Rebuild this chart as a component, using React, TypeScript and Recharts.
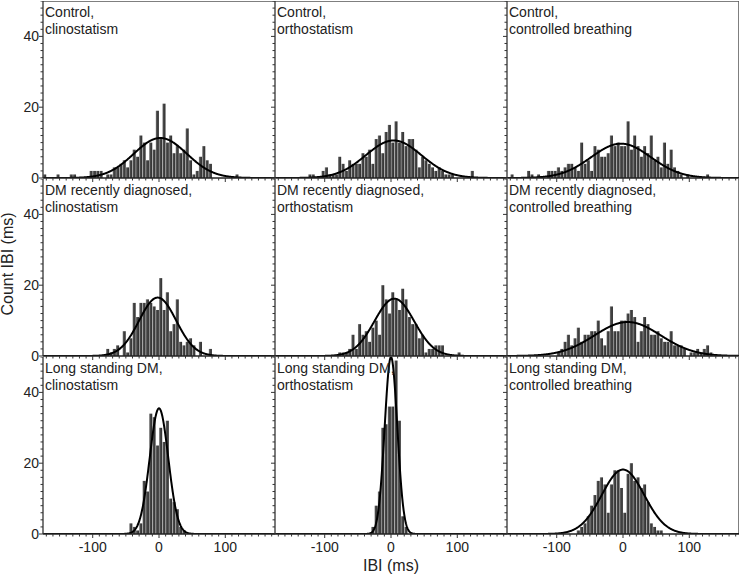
import React from 'react';
import { ComposedChart, Bar, Line, XAxis, YAxis, ReferenceLine } from 'recharts';

// histogram bins are 5 ms wide; each array starts at the given bin centre
const BIN = 5;

const ctrlClinoStart = -172.5;
const ctrlClino = [1, 0, 0, 0, 1, 0, 0, 0, 1, 1, 0, 0, 0, 0, 2, 2, 2, 2, 0, 1, 1, 3, 3, 4, 5, 3, 5, 8, 6, 12, 10, 5, 10, 8, 19, 11, 21, 10, 12, 7, 9, 7, 8, 14, 5, 1, 2, 6, 9, 5, 4, 0, 0, 0, 0, 0, 0, 0, 1];

const ctrlOrthoStart = -122.5;
const ctrlOrtho = [1, 1, 0, 0, 2, 3, 1, 1, 1, 6, 4, 2, 5, 4, 4, 4, 7, 6, 8, 4, 11, 12, 7, 13, 15, 10, 16, 10, 13, 9, 11, 11, 8, 3, 6, 5, 4, 3, 2, 3, 2, 1, 1, 1, 0, 0, 0, 0, 0, 2];

const ctrlBreathStart = -167.5;
const ctrlBreath = [1, 0, 0, 0, 0, 2, 1, 0, 1, 0, 0, 2, 2, 2, 3, 2, 3, 4, 4, 3, 2, 10, 4, 5, 2, 9, 8, 6, 6, 7, 12, 9, 10, 9, 9, 16, 8, 12, 9, 6, 9, 7, 12, 5, 6, 3, 10, 4, 8, 3, 2, 1, 0, 1, 0, 0, 0, 0, 0, 1];

const recentClinoStart = -77.5;
const recentClino = [2, 1, 2, 3, 0, 7, 1, 5, 15, 11, 15, 15, 16, 15, 14, 13, 22, 13, 18, 7, 9, 16, 4, 3, 4, 5, 3, 0, 4, 0, 0, 2];

const recentOrthoStart = -77.5;
const recentOrtho = [1, 1, 1, 2, 6, 2, 9, 6, 7, 4, 8, 10, 6, 20, 16, 12, 18, 16, 13, 19, 16, 11, 9, 9, 5, 6, 1, 2, 2, 3, 3, 3, 0, 0, 0, 0, 1];

const recentBreathStart = -97.5;
const recentBreath = [1, 2, 4, 6, 3, 5, 8, 4, 6, 6, 7, 7, 10, 5, 3, 7, 14, 7, 7, 10, 10, 12, 13, 11, 4, 7, 11, 9, 6, 6, 7, 5, 4, 4, 7, 3, 3, 3, 2, 0, 1, 1, 2, 1, 2, 3, 1];

const longClinoStart = -42.5;
const longClino = [3, 2, 1, 3, 15, 12, 34, 33, 25, 30, 26, 32, 10, 9, 7, 2, 1];

const longOrthoStart = -27.5;
const longOrtho = [2, 8, 12, 30, 31, 36, 36, 49, 32, 5, 2];

const longBreathStart = -67.5;
const longBreath = [1, 2, 3, 5, 8, 11, 15, 16, 14, 6, 14, 18, 18, 13, 6, 17, 20, 15, 16, 13, 14, 9, 3, 2, 1, 1];

// normal fit: mean (ms), sd (ms), peak (count)
const fitMean = [2, 4, -3, -2, 5, 7, 0, 0, 0];
const fitSd = [40, 42, 45, 28, 30, 50, 14, 9.5, 32];
const fitPeak = [11.3, 10.6, 9.7, 16.5, 16.2, 9.6, 35.5, 50, 18.2];

const rowNames = ['Control,', 'DM recently diagnosed,', 'Long standing DM,'];
const colNames = ['clinostatism', 'orthostatism', 'controlled breathing'];

const X_TICKS = [-170, -160, -150, -140, -130, -120, -110, -100, -90, -80, -70, -60, -50, -40, -30, -20, -10, 0, 10, 20, 30, 40, 50, 60, 70, 80, 90, 100, 110, 120, 130, 140, 150, 160, 170];
const X_LABELS = [-100, 0, 100];
const Y_TICKS = [0, 2, 4, 6, 8, 10, 12, 14, 16, 18, 20, 22, 24, 26, 28, 30, 32, 34, 36, 38, 40, 42, 44, 46, 48, 50];
const Y_LABELS = [0, 20, 40];

const panelCounts = [ctrlClino, ctrlOrtho, ctrlBreath, recentClino, recentOrtho, recentBreath, longClino, longOrtho, longBreath];
const panelStarts = [ctrlClinoStart, ctrlOrthoStart, ctrlBreathStart, recentClinoStart, recentOrthoStart, recentBreathStart, longClinoStart, longOrthoStart, longBreathStart];

const COL_LEFT = [43, 275, 507];
const ROW_TOP = [1, 179, 357];
const PLOT_W = 232;
const PLOT_H = 177;
const Y_AXIS_W = 43;
const X_AXIS_H = 30;
const BAR_W = 3.1;
const FONT = '"Liberation Sans", Arial, sans-serif';
const AXIS = '#333';

const buildRows = (p: number) => {
  const counts = panelCounts[p];
  const start = panelStarts[p];
  const rows: { x: number; count?: number; fit: number }[] = [];
  for (let i = 0; i <= 700; i++) {
    const x = -175 + i * 0.5;
    const k = Math.round((x - start) / BIN);
    const onCentre = Math.abs(x - (start + k * BIN)) < 1e-6 && k >= 0 && k < counts.length;
    const z = (x - fitMean[p]) / fitSd[p];
    rows.push({ x, count: onCentre ? counts[k] : undefined, fit: fitPeak[p] * Math.exp(-0.5 * z * z) });
  }
  return rows;
};

const HistBar = (props: any) => {
  const { x, y, width, height } = props;
  if (!(height > 0)) return <g />;
  const cx = x + width / 2;
  return <rect x={cx - BAR_W / 2} y={y} width={BAR_W} height={height} fill="url(#barFill)" />;
};

const XTick = (props: any) => {
  const { x, y, payload, showLabel } = props;
  const v = payload.value;
  const major = X_LABELS.includes(v);
  return (
    <g>
      <line x1={x} x2={x} y1={y} y2={y + (major ? 4 : 2.5)} stroke={AXIS} strokeWidth={1} />
      {showLabel && major && (
        <text x={x} y={y + 18} textAnchor="middle" fontSize={14} fontFamily={FONT} fill="#222">
          {v}
        </text>
      )}
    </g>
  );
};

const YTick = (props: any) => {
  const { x, y, payload, showLabel } = props;
  const v = payload.value;
  const major = Y_LABELS.includes(v);
  return (
    <g>
      <line x1={x} x2={x - (major ? 4 : 2.5)} y1={y} y2={y} stroke={AXIS} strokeWidth={1} />
      {showLabel && major && (
        <text x={x - 4} y={y} dy="0.35em" textAnchor="end" fontSize={14} fontFamily={FONT} fill="#222">
          {v}
        </text>
      )}
    </g>
  );
};

const Panel = ({ p }: { p: number }) => {
  const row = Math.floor(p / 3);
  const col = p % 3;
  const data = buildRows(p);
  return (
    <div style={{ position: 'absolute', left: COL_LEFT[col] - Y_AXIS_W, top: ROW_TOP[row] }}>
      <ComposedChart width={Y_AXIS_W + PLOT_W} height={PLOT_H + X_AXIS_H} data={data} margin={{ top: 0, right: 0, bottom: 0, left: 0 }}>
        <XAxis
          dataKey="x"
          type="number"
          domain={[-175, 175]}
          allowDataOverflow
          ticks={X_TICKS}
          interval={0}
          tickSize={0}
          tickMargin={0}
          tickLine={false}
          height={X_AXIS_H}
          axisLine={{ stroke: '#222', strokeWidth: 1.5 }}
          tick={(t: any) => <XTick {...t} showLabel={row === 2} />}
        />
        <YAxis
          type="number"
          domain={[0, 50]}
          allowDataOverflow
          ticks={Y_TICKS}
          interval={0}
          tickSize={0}
          tickMargin={0}
          tickLine={false}
          width={Y_AXIS_W}
          axisLine={{ stroke: AXIS, strokeWidth: 1.3 }}
          tick={(t: any) => <YTick {...t} showLabel={col === 0} />}
        />
        {row === 0 && <ReferenceLine y={50} stroke="#555" strokeWidth={1.5} />}
        {col === 2 && <ReferenceLine x={175} stroke="#555" strokeWidth={1.5} />}
        <Bar dataKey="count" shape={<HistBar />} isAnimationActive={false} />
        <Line dataKey="fit" type="linear" dot={false} stroke="#000" strokeWidth={2} isAnimationActive={false} />
      </ComposedChart>
    </div>
  );
};

export default function App() {
  return (
    <div style={{ position: 'absolute', left: 0, top: 0, width: 740, height: 578, background: '#fff', fontFamily: FONT }}>
      {[0, 1, 2, 3, 4, 5, 6, 7, 8].map((p) => (
        <Panel key={p} p={p} />
      ))}
      <svg width={740} height={578} style={{ position: 'absolute', left: 0, top: 0, pointerEvents: 'none' }}>
        <defs>
          <linearGradient id="barFill" x1="0" x2="1" y1="0" y2="0">
            <stop offset="0%" stopColor="#8c8c8c" />
            <stop offset="30%" stopColor="#4a4a4a" />
            <stop offset="100%" stopColor="#2e2e2e" />
          </linearGradient>
        </defs>
        {[0, 1, 2].map((r) =>
          [0, 1, 2].map((c) => (
            <text key={`${r}-${c}`} fontSize={14} fontFamily={FONT} fill="#222">
              <tspan x={COL_LEFT[c] + 2} y={ROW_TOP[r] + 16}>{rowNames[r]}</tspan>
              <tspan x={COL_LEFT[c] + 2} y={ROW_TOP[r] + 32.5}>{colNames[c]}</tspan>
            </text>
          ))
        )}
        <text x={391} y={571} textAnchor="middle" fontSize={16} fontFamily={FONT} fill="#222">
          IBI (ms)
        </text>
        <text transform="translate(13,264) rotate(-90)" textAnchor="middle" fontSize={16} fontFamily={FONT} fill="#222">
          Count IBI (ms)
        </text>
      </svg>
    </div>
  );
}
